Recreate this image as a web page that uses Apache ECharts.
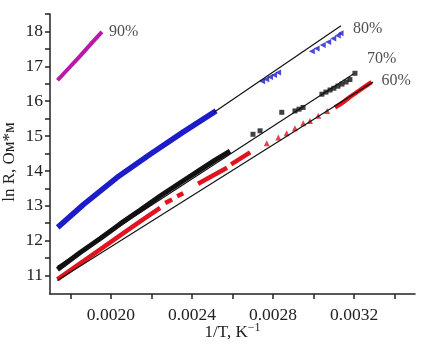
<!DOCTYPE html>
<html>
<head>
<meta charset="utf-8">
<script src="https://cdn.jsdelivr.net/npm/echarts@6/dist/echarts.min.js"></script>
<style>
  html, body { margin: 0; padding: 0; background: #fff; }
  #chart { width: 429px; height: 344px; }
</style>
</head>
<body>
<div id="chart"></div>
<script>
// axis ticks
const xTicks = [0.0018, 0.0020, 0.0022, 0.0024, 0.0026, 0.0028, 0.0030, 0.0032, 0.0034]
const xLabels = [0.0020, 0.0024, 0.0028, 0.0032]
const yTicks = [11, 11.5, 12, 12.5, 13, 13.5, 14, 14.5, 15, 15.5, 16, 16.5, 17, 17.5, 18, 18.5]
const yLabels = [11, 12, 13, 14, 15, 16, 17, 18]

// 90%
const s90 = [[0.001737, 16.60], [0.00179, 16.93], [0.001849, 17.30], [0.001903, 17.65], [0.001956, 17.99]]

// 80%
const s80Band = [[0.001738, 12.38], [0.001866, 13.04], [0.00203, 13.81], [0.002194, 14.48], [0.002358, 15.12], [0.002519, 15.72]]
const s80Cluster = [[0.002746, 16.57], [0.002766, 16.63], [0.002785, 16.69], [0.002805, 16.75], [0.002825, 16.82]]
const s80Tri = [[0.002991, 17.43], [0.003015, 17.51], [0.003045, 17.61], [0.003072, 17.70], [0.003097, 17.80], [0.003119, 17.88], [0.003133, 17.95]]
const s80Fit = [[0.002509, 15.68], [0.003135, 18.16]]

// 70%
const s70Band = [[0.001737, 11.17], [0.001849, 11.66], [0.001948, 12.06], [0.002046, 12.48], [0.002145, 12.88],
  [0.002243, 13.28], [0.002342, 13.66], [0.00244, 14.03], [0.002514, 14.31], [0.002588, 14.57]]
const s70Pts = [[0.002701, 15.05], [0.002736, 15.15], [0.002843, 15.68], [0.002908, 15.72], [0.002928, 15.77],
  [0.002948, 15.82], [0.003041, 16.20], [0.003061, 16.26], [0.003081, 16.32], [0.0031, 16.37], [0.00312, 16.43],
  [0.00314, 16.49], [0.00316, 16.55], [0.003179, 16.62], [0.003204, 16.80]]
const s70Fit = [[0.001736, 11.26], [0.003196, 16.78]]

// 60%
const s60Segs = [
  [[0.001736, 10.89], [0.001849, 11.35], [0.001948, 11.75], [0.002046, 12.15], [0.002145, 12.55], [0.002243, 12.94]],
  [[0.002268, 13.08], [0.002302, 13.18]],
  [[0.002327, 13.27], [0.002357, 13.36]],
  [[0.00243, 13.63], [0.002573, 14.09]],
  [[0.002593, 14.19], [0.002687, 14.53]],
  [[0.003105, 15.82], [0.00313, 15.91], [0.003155, 16.01], [0.003179, 16.12], [0.003204, 16.22], [0.003229, 16.32], [0.003253, 16.42], [0.003286, 16.55]]
]
const s60Tri = [[0.002769, 14.79], [0.002826, 14.96], [0.002867, 15.08], [0.002908, 15.22], [0.002949, 15.37],
  [0.002982, 15.43], [0.003023, 15.58], [0.003067, 15.72]]
const s60Fit = [[0.001736, 10.86], [0.003293, 16.55]]

const serif = 'Liberation Serif'
const BLUE = '#1c1cc8'
const RED = '#e0141e'
const BLACK = '#111'
const MAGENTA = '#b81aa8'

function band(data, color, width) {
  return { type: 'line', data, showSymbol: false, symbol: 'none', silent: true,
    lineStyle: { color, width }, z: 2 }
}
function fit(data) {
  return { type: 'line', data, showSymbol: false, symbol: 'none', silent: true,
    lineStyle: { color: BLACK, width: 1.2 }, z: 5 }
}
function tag(point, text, distance, offset) {
  return { type: 'scatter', data: [point], symbolSize: 2, itemStyle: { color: 'rgba(0,0,0,0)' }, silent: true,
    label: { show: true, position: 'right', distance, offset, formatter: text,
      fontFamily: serif, fontSize: 16, color: '#222' }, z: 6 }
}

const chart = echarts.init(document.getElementById('chart'))

chart.setOption({
  animation: false,
  grid: { left: 50, right: 14, top: 14, bottom: 50, outerBoundsMode: 'none', containLabel: false },
  xAxis: {
    type: 'value',
    min: 0.0017,
    max: 0.0035,
    name: '1/T, K{sup|−1}',
    nameLocation: 'middle',
    nameGap: 28,
    nameMoveOverlap: false,
    nameTextStyle: { fontFamily: serif, fontSize: 17, color: '#222',
      rich: { sup: { fontFamily: serif, fontSize: 12, color: '#222', padding: [0, 0, 9, 0] } } },
    axisLine: { lineStyle: { color: '#222', width: 1.5 } },
    axisTick: { customValues: xTicks, length: 5, lineStyle: { color: '#222', width: 1.5 } },
    axisLabel: { customValues: xLabels, formatter: v => v.toFixed(4), margin: 12,
      fontFamily: serif, fontSize: 17.5, color: '#222' },
    splitLine: { show: false }
  },
  yAxis: {
    type: 'value',
    min: 10.47,
    max: 18.5,
    name: 'ln R, Ом*м',
    nameLocation: 'middle',
    nameGap: 32,
    nameMoveOverlap: false,
    nameTextStyle: { fontFamily: serif, fontSize: 17, color: '#222', padding: [0, 16, 0, 0] },
    axisLine: { show: true, lineStyle: { color: '#222', width: 1.5 } },
    axisTick: { show: true, customValues: yTicks, length: 5, lineStyle: { color: '#222', width: 1.5 } },
    axisLabel: { customValues: yLabels, margin: 7, fontFamily: serif, fontSize: 17.5, color: '#222' },
    splitLine: { show: false }
  },
  series: [
    band(s90, MAGENTA, 4),
    band(s80Band, BLUE, 5.5),
    { type: 'scatter', data: s80Cluster, symbol: 'triangle', symbolRotate: 90, symbolSize: 6,
      itemStyle: { color: BLUE }, silent: true, z: 3 },
    { type: 'scatter', data: s80Tri, symbol: 'triangle', symbolRotate: 90, symbolSize: 6,
      itemStyle: { color: BLUE }, silent: true, z: 3 },
    band(s70Band, BLACK, 5),
    { type: 'scatter', data: s70Pts, symbol: 'rect', symbolSize: 5,
      itemStyle: { color: BLACK }, silent: true, z: 3 },
    ...s60Segs.map(seg => band(seg, RED, 4.5)),
    { type: 'scatter', data: s60Tri, symbol: 'triangle', symbolSize: 6,
      itemStyle: { color: RED }, silent: true, z: 3 },
    fit(s80Fit),
    fit(s70Fit),
    fit(s60Fit),
    tag(s90[s90.length - 1], '90%', 6, [0, 0]),
    tag(s80Fit[s80Fit.length - 1], '80%', 11, [0, 3]),
    tag(s70Pts[s70Pts.length - 1], '70%', 11, [0, -14]),
    tag(s60Segs[5][s60Segs[5].length - 1], '60%', 9, [0, -1])
  ]
})
</script>
</body>
</html>
